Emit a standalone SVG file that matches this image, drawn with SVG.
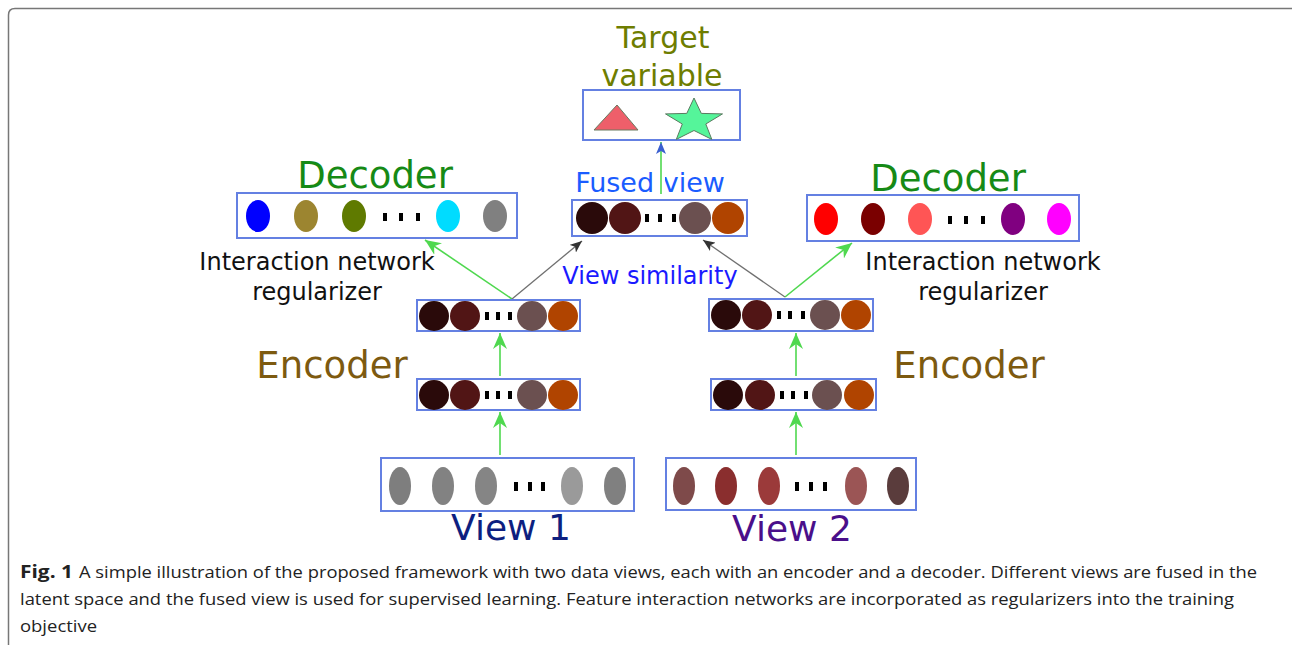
<svg xmlns="http://www.w3.org/2000/svg" width="1292" height="645" viewBox="0 0 1292 645">
<style>
.box{fill:none;stroke:#6480e2;stroke-width:2}
.t{font-family:"DejaVu Sans",Verdana,sans-serif;text-anchor:middle}
.g{stroke:#4fd84f;stroke-width:1.6;fill:none}
.k{stroke:#707070;stroke-width:1.3;fill:none}
.dot{fill:#000}
.cap{font-family:"Open Sans","Liberation Sans",sans-serif;font-size:17px;fill:#222}
</style>
<defs>
<marker id="ag" markerUnits="userSpaceOnUse" markerWidth="18" markerHeight="14" refX="16" refY="7" orient="auto">
<path d="M0,0 L16,7 L0,14 L5,7 z" fill="#4fd84f"/>
</marker>
<marker id="ak" markerUnits="userSpaceOnUse" markerWidth="14" markerHeight="10" refX="12" refY="5" orient="auto">
<path d="M0,0 L12,5 L0,10 L3,5 z" fill="#333"/>
</marker>
<marker id="ab" markerUnits="userSpaceOnUse" markerWidth="14" markerHeight="10" refX="12" refY="5" orient="auto">
<path d="M0,0 L12,5 L0,10 L3,5 z" fill="#3a5fd0"/>
</marker>
</defs>
<rect width="1292" height="645" fill="#fff"/>
<path d="M8.5,645 V15 Q8.5,8.5 15,8.5 H1292" fill="none" stroke="#777" stroke-width="1.5"/>

<g id="connectors">
<line class="g" x1="661" y1="190" x2="661" y2="142" marker-end="url(#ab)"/>
<line class="g" x1="512" y1="299" x2="425" y2="240" marker-end="url(#ag)"/>
<line class="k" x1="512" y1="299" x2="582" y2="241" marker-end="url(#ak)"/>
<line class="g" x1="785" y1="297" x2="852" y2="243" marker-end="url(#ag)"/>
<line class="k" x1="785" y1="297" x2="703" y2="240" marker-end="url(#ak)"/>
<line class="g" x1="500" y1="376" x2="500" y2="333" marker-end="url(#ag)"/>
<line class="g" x1="500" y1="455" x2="500" y2="412" marker-end="url(#ag)"/>
<line class="g" x1="796" y1="376" x2="796" y2="333" marker-end="url(#ag)"/>
<line class="g" x1="796" y1="455" x2="796" y2="412" marker-end="url(#ag)"/>
</g>

<g id="target">
<text class="t" x="663" y="48" font-size="30" fill="#6e7d00">Target</text>
<text class="t" x="662" y="86" font-size="30" fill="#6e7d00">variable</text>
<rect class="box" x="583" y="90" width="157" height="50"/>
<polygon points="594,130 638,130 617,105" fill="#ee5f6a" stroke="#6a7a60" stroke-width="1"/>
<polygon points="694,98 701.3,113.4 722.5,113.9 705.8,124 711.8,139.4 694,130.5 676.3,139.4 682.3,124 665.5,113.9 686.8,113.4" fill="#55f59a" stroke="#5a7a60" stroke-width="1"/>
</g>

<g id="fused">
<text class="t" x="650" y="192" font-size="27" fill="#1a5cff">Fused view</text>
<rect x="655" y="168" width="10" height="26" fill="#fff"/>
<line class="g" x1="661" y1="194" x2="661" y2="168"/>
<rect class="box" x="572" y="200" width="175" height="36"/>
<circle cx="592" cy="218" r="16" fill="#2a0a0a"/>
<circle cx="625" cy="218" r="16" fill="#511515"/>
<rect class="dot" x="645" y="214" width="4" height="8"/><rect class="dot" x="658" y="214" width="4" height="8"/><rect class="dot" x="672" y="214" width="4" height="8"/>
<circle cx="695" cy="218" r="16" fill="#6b5050"/>
<circle cx="728" cy="218" r="16" fill="#b04400"/>
</g>

<g id="decoder-left">
<text class="t" x="375" y="188" font-size="37" fill="#168a16">Decoder</text>
<rect class="box" x="237" y="193" width="280" height="45"/>
<ellipse cx="258" cy="216" rx="12" ry="16" fill="#0000ff"/>
<ellipse cx="306" cy="216" rx="12" ry="16" fill="#9c8530"/>
<ellipse cx="354" cy="216" rx="12" ry="16" fill="#5f7a00"/>
<rect class="dot" x="383" y="213" width="4" height="8"/><rect class="dot" x="399" y="213" width="4" height="8"/><rect class="dot" x="416" y="213" width="4" height="8"/>
<ellipse cx="448" cy="216" rx="12" ry="16" fill="#00dcff"/>
<ellipse cx="495" cy="216" rx="12" ry="16" fill="#808080"/>
<text class="t" x="317" y="270" font-size="24" fill="#111">Interaction network</text>
<text class="t" x="317" y="300" font-size="24" fill="#111">regularizer</text>
</g>

<g id="decoder-right">
<text class="t" x="948" y="191" font-size="37" fill="#168a16">Decoder</text>
<rect class="box" x="807" y="195" width="272" height="46"/>
<ellipse cx="826" cy="219" rx="12" ry="16" fill="#ff0000"/>
<ellipse cx="873" cy="219" rx="12" ry="16" fill="#7a0000"/>
<ellipse cx="920" cy="219" rx="12" ry="16" fill="#ff5555"/>
<rect class="dot" x="948" y="216" width="4" height="8"/><rect class="dot" x="964" y="216" width="4" height="8"/><rect class="dot" x="981" y="216" width="4" height="8"/>
<ellipse cx="1013" cy="219" rx="12" ry="16" fill="#800080"/>
<ellipse cx="1059" cy="219" rx="12" ry="16" fill="#ff00ff"/>
<text class="t" x="983" y="270" font-size="24" fill="#111">Interaction network</text>
<text class="t" x="983" y="300" font-size="24" fill="#111">regularizer</text>
</g>

<g id="view-similarity">
<text class="t" x="650" y="284" font-size="24" fill="#1a1aff">View similarity</text>
</g>

<g id="encoder-left-upper">
<rect class="box" x="417" y="300" width="163" height="31"/>
<circle cx="434" cy="316" r="15" fill="#2a0a0a"/>
<circle cx="465" cy="316" r="15" fill="#511515"/>
<rect class="dot" x="485" y="312" width="4" height="8"/><rect class="dot" x="496" y="312" width="4" height="8"/><rect class="dot" x="508" y="312" width="4" height="8"/>
<circle cx="532" cy="316" r="15" fill="#6b5050"/>
<circle cx="563" cy="316" r="15" fill="#b04400"/>
</g>
<g id="encoder-left-lower">
<rect class="box" x="417" y="379" width="163" height="31"/>
<circle cx="434" cy="395" r="15" fill="#2a0a0a"/>
<circle cx="465" cy="395" r="15" fill="#511515"/>
<rect class="dot" x="485" y="391" width="4" height="8"/><rect class="dot" x="496" y="391" width="4" height="8"/><rect class="dot" x="508" y="391" width="4" height="8"/>
<circle cx="532" cy="395" r="15" fill="#6b5050"/>
<circle cx="563" cy="395" r="15" fill="#b04400"/>
</g>
<g id="encoder-left-label">
<text class="t" x="332" y="378" font-size="37" fill="#7d5a10">Encoder</text>
</g>

<g id="encoder-right-upper">
<rect class="box" x="709" y="299" width="164" height="32"/>
<circle cx="726" cy="315" r="15" fill="#2a0a0a"/>
<circle cx="757" cy="315" r="15" fill="#511515"/>
<rect class="dot" x="777" y="311" width="4" height="8"/><rect class="dot" x="788" y="311" width="4" height="8"/><rect class="dot" x="801" y="311" width="4" height="8"/>
<circle cx="825" cy="315" r="15" fill="#6b5050"/>
<circle cx="856" cy="315" r="15" fill="#b04400"/>
</g>
<g id="encoder-right-lower">
<rect class="box" x="711" y="379" width="165" height="31"/>
<circle cx="728" cy="395" r="15" fill="#2a0a0a"/>
<circle cx="760" cy="395" r="15" fill="#511515"/>
<rect class="dot" x="780" y="391" width="4" height="8"/><rect class="dot" x="791" y="391" width="4" height="8"/><rect class="dot" x="804" y="391" width="4" height="8"/>
<circle cx="827" cy="395" r="15" fill="#6b5050"/>
<circle cx="859" cy="395" r="15" fill="#b04400"/>
</g>
<g id="encoder-right-label">
<text class="t" x="969" y="378" font-size="37" fill="#7d5a10">Encoder</text>
</g>

<g id="view1">
<rect class="box" x="381" y="458" width="253" height="53"/>
<ellipse cx="400" cy="486" rx="11" ry="19" fill="#7e7e7e"/>
<ellipse cx="443" cy="486" rx="11" ry="19" fill="#828282"/>
<ellipse cx="486" cy="486" rx="11" ry="19" fill="#858585"/>
<rect class="dot" x="514" y="482" width="4" height="9"/><rect class="dot" x="528" y="482" width="4" height="9"/><rect class="dot" x="541" y="482" width="4" height="9"/>
<ellipse cx="572" cy="486" rx="11" ry="19" fill="#9a9a9a"/>
<ellipse cx="615" cy="486" rx="11" ry="19" fill="#808080"/>
<text class="t" x="511" y="540" font-size="36" fill="#0d1f80">View 1</text>
</g>

<g id="view2">
<rect class="box" x="666" y="458" width="250" height="52"/>
<ellipse cx="684" cy="486" rx="11" ry="19" fill="#7e4a4a"/>
<ellipse cx="726" cy="486" rx="11" ry="19" fill="#8a2e2e"/>
<ellipse cx="769" cy="486" rx="11" ry="19" fill="#9b3a3a"/>
<rect class="dot" x="795" y="482" width="4" height="9"/><rect class="dot" x="809" y="482" width="4" height="9"/><rect class="dot" x="823" y="482" width="4" height="9"/>
<ellipse cx="856" cy="486" rx="11" ry="19" fill="#9b5555"/>
<ellipse cx="898" cy="486" rx="11" ry="19" fill="#5a3c3c"/>
<text class="t" x="792" y="541" font-size="36" fill="#4a0f8a">View 2</text>
</g>

<g id="caption">
<text class="cap" x="20" y="578" font-weight="bold" textLength="53" lengthAdjust="spacingAndGlyphs">Fig. 1</text>
<text class="cap" x="79" y="578" textLength="1178" lengthAdjust="spacingAndGlyphs">A simple illustration of the proposed framework with two data views, each with an encoder and a decoder. Different views are fused in the</text>
<text class="cap" x="20" y="605" textLength="1214" lengthAdjust="spacingAndGlyphs">latent space and the fused view is used for supervised learning. Feature interaction networks are incorporated as regularizers into the training</text>
<text class="cap" x="20" y="632" textLength="77" lengthAdjust="spacingAndGlyphs">objective</text>
</g>
</svg>
